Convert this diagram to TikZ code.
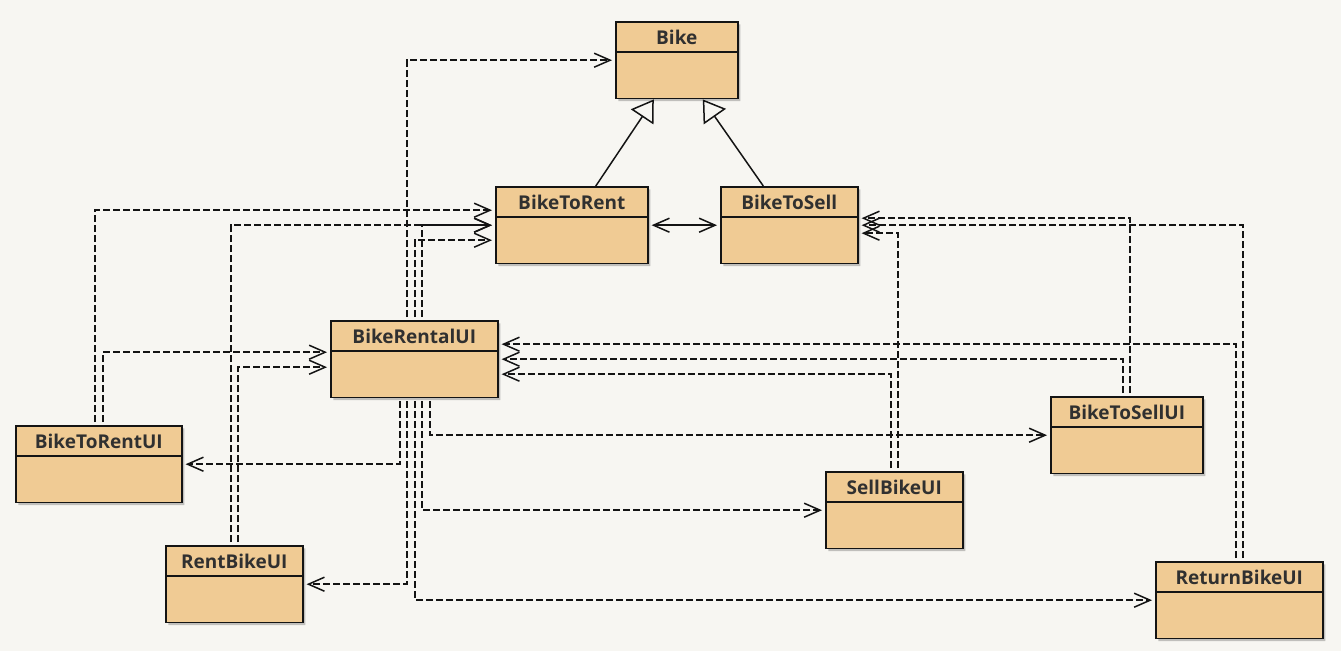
\documentclass[tikz,border=0pt]{standalone}
\usepackage{fontspec}
\setmainfont{Open Sans}
\usetikzlibrary{arrows.meta, shapes.multipart, shadows}
\definecolor{pagebg}{RGB}{247,246,242}
\definecolor{classfill}{RGB}{240,203,148}
\definecolor{namegray}{RGB}{48,48,48}
\definecolor{linegray}{RGB}{20,20,20}
\tikzset{
  umlclass/.style={
    rectangle split,
    rectangle split parts=2,
    rectangle split empty part height=31pt,
    draw=linegray,
    line width=1.6pt,
    fill=classfill,
    inner ysep=7pt,
    anchor=north west,
    font=\fontsize{19}{21}\selectfont\bfseries,
    text=namegray,
    drop shadow={shadow xshift=2.5pt, shadow yshift=-2.5pt, fill=black, opacity=0.22}
  },
  dep/.style={
    -{Straight Barb[length=16pt, width=14pt]},
    dash pattern=on 7pt off 3pt,
    line width=1.5pt,
    color=linegray,
    shorten >=3pt,
    shorten <=3pt
  },
  assoc/.style={
    {Straight Barb[length=16pt, width=14pt]}-{Straight Barb[length=16pt, width=14pt]},
    line width=1.5pt,
    color=linegray,
    shorten >=3pt,
    shorten <=3pt
  },
  inherit/.style={
    -{Triangle[open, length=21pt, width=27pt]},
    line width=1.5pt,
    color=linegray
  }
}

\begin{document}
\begin{tikzpicture}[x=1pt, y=-1pt]

  %% ---- 背景（固定画面大小）----
  \fill[pagebg] (0,0) rectangle (1341,651);

  %% ---- 类框 ----
  \node[umlclass, minimum width=122pt] (bike)  at (615,21)   {Bike\nodepart{second}};
  \node[umlclass, minimum width=152pt] (btr)   at (495,186)  {BikeToRent\nodepart{second}};
  \node[umlclass, minimum width=137pt] (bts)   at (720,186)  {BikeToSell\nodepart{second}};
  \node[umlclass, minimum width=167pt] (brui)  at (330,320)  {BikeRentalUI\nodepart{second}};
  \node[umlclass, minimum width=166pt] (btrui) at (15,425)   {BikeToRentUI\nodepart{second}};
  \node[umlclass, minimum width=137pt] (rbui)  at (165,545)  {RentBikeUI\nodepart{second}};
  \node[umlclass, minimum width=137pt] (sbui)  at (825,471)  {SellBikeUI\nodepart{second}};
  \node[umlclass, minimum width=152pt] (bsui)  at (1050,396) {BikeToSellUI\nodepart{second}};
  \node[umlclass, minimum width=167pt] (rtui)  at (1155,561) {ReturnBikeUI\nodepart{second}};

  %% ---- 继承 ----
  \draw[inherit] ([xshift=24pt]btr.north) -- ([xshift=-23pt]bike.south);
  \draw[inherit] ([xshift=-26pt]bts.north) -- ([xshift=26pt]bike.south);

  % BikeToRent 与 BikeToSell 互相关联
  \draw[assoc] (btr.east) -- (bts.west);

  %% ---- 依赖：指向 Bike / BikeToRent ----
  \draw[dep] ([xshift=-7.5pt]brui.north) |- (bike.west);
  \draw[dep] ([xshift=-4pt]btrui.north) |- ([yshift=15pt]btr.west);
  \draw[dep] ([xshift=-3.5pt]rbui.north) |- (btr.west);
  \draw[dep] ([xshift=7.5pt]brui.north) |- (btr.west);
  \draw[dep] ([xshift=0.5pt]brui.north) |- ([yshift=-15pt]btr.west);

  %% ---- 依赖：指向 BikeRentalUI ----
  \draw[dep] ([xshift=4pt]btrui.north) |- ([yshift=7pt]brui.west);
  \draw[dep] ([xshift=3.5pt]rbui.north) |- ([yshift=-8pt]brui.west);
  \draw[dep] ([xshift=-3.5pt]rtui.north) |- ([yshift=15pt]brui.east);
  \draw[dep] ([xshift=-4pt]bsui.north) |- (brui.east);
  \draw[dep] ([xshift=-3.5pt]sbui.north) |- ([yshift=-15pt]brui.east);

  %% ---- 依赖：指向 BikeToSell ----
  \draw[dep] ([xshift=3pt]bsui.north) |- ([yshift=7pt]bts.east);
  \draw[dep] ([xshift=3.5pt]rtui.north) |- (bts.east);
  \draw[dep] ([xshift=3.5pt]sbui.north) |- ([yshift=-8pt]bts.east);

  %% ---- 依赖：BikeRentalUI 指向各界面 ----
  \draw[dep] ([xshift=-14.5pt]brui.south) |- (btrui.east);
  \draw[dep] ([xshift=-7.5pt]brui.south) |- (rbui.east);
  \draw[dep] ([xshift=0.5pt]brui.south) |- (rtui.west);
  \draw[dep] ([xshift=7.5pt]brui.south) |- (sbui.west);
  \draw[dep] ([xshift=15.5pt]brui.south) |- (bsui.west);

\end{tikzpicture}
\end{document}
